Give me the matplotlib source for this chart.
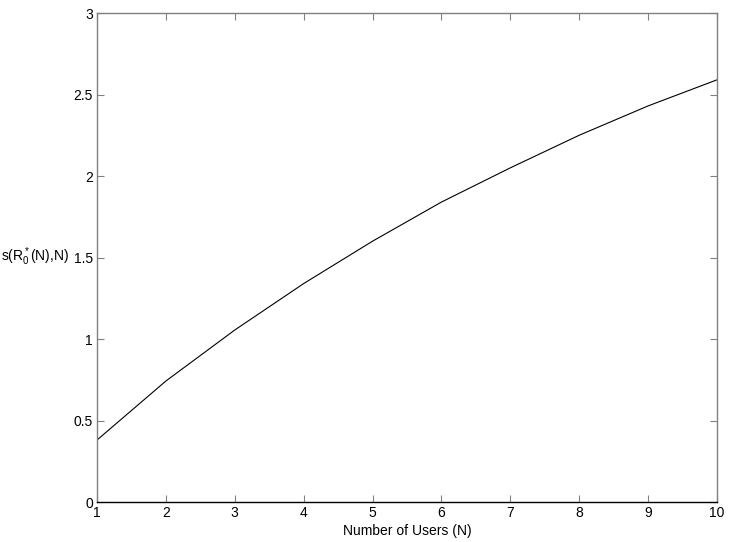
import matplotlib
matplotlib.use("Agg")
import matplotlib.pyplot as plt

users = [1, 2, 3, 4, 5, 6, 7, 8, 9, 10]
s_values = [0.38, 0.742, 1.055, 1.34, 1.60, 1.84, 2.05, 2.25, 2.43, 2.59]
x_ticks = [1, 2, 3, 4, 5, 6, 7, 8, 9, 10]
y_ticks = [0, 0.5, 1, 1.5, 2, 2.5, 3]
y_tick_labels = ["0", "0.5", "1", "1.5", "2", "2.5", "3"]

plt.rcParams['font.family'] = ['Liberation Sans', 'DejaVu Sans']
plt.rcParams['mathtext.fontset'] = 'custom'
plt.rcParams['mathtext.rm'] = 'Liberation Sans'
plt.rcParams['mathtext.it'] = 'Liberation Sans'

fig = plt.figure(figsize=(7.29, 5.42), dpi=100)
ax = fig.add_axes([0.133, 0.0738, 0.8505, 0.9022])
ax.plot(users, s_values, color='black', linewidth=0.8)
ax.set_xlim(1, 10)
ax.set_ylim(0, 3)
ax.set_xticks(x_ticks)
ax.set_yticks(y_ticks)
ax.set_yticklabels(y_tick_labels)
ax.tick_params(direction='in', top=True, right=True, length=5, width=0.8,
               colors='#808080', labelcolor='black', labelsize=10, pad=3)
for side in ['left', 'top', 'right']:
    ax.spines[side].set_color('#808080')
ax.spines['bottom'].set_color('black')
for sp in ax.spines.values():
    sp.set_linewidth(1.0)
ax.set_xlabel('Number of Users (N)', fontsize=10, labelpad=3)
fig.text(0.002, 0.527, r'$\mathrm{s(R_0^*(N){,}N)}$', fontsize=10, ha='left', va='center')
fig.savefig('out.png', dpi=100)
